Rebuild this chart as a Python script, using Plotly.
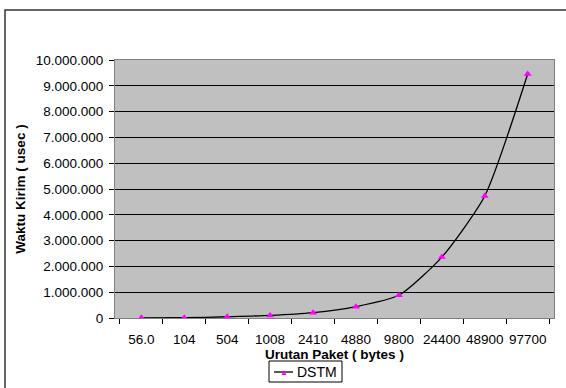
import plotly.graph_objects as go

categories = ["56.0", "104", "504", "1008", "2410", "4880", "9800", "24400", "48900", "97700"]
dstm = [5500, 10000, 49000, 98000, 205000, 440000, 880000, 2360000, 4730000, 9460000]
y_ticks = [0, 1000000, 2000000, 3000000, 4000000, 5000000, 6000000, 7000000, 8000000, 9000000, 10000000]
series_name = "DSTM"

W, H = 566, 388
L, R, T, B = 115, 12, 60, 70
pw, ph = W - L - R, H - T - B

def px_x(x):
    return (x - L) / pw

def px_y(y):
    return (H - B - y) / ph

line_style = dict(color="black", width=1.3)
marker_color = "#FF00FF"

fig = go.Figure()
fig.add_trace(go.Scatter(
    x=categories, y=dstm, name=series_name, mode="lines+markers",
    line=dict(**line_style, shape="spline", smoothing=0.6),
    marker=dict(symbol="triangle-up", color=marker_color, size=7),
    showlegend=False,
))

font = "Liberation Sans, Arial, sans-serif"
fs = 13.5
fig.update_layout(
    width=W, height=H,
    margin=dict(l=L, r=R, t=T, b=B, autoexpand=False),
    paper_bgcolor="white",
    plot_bgcolor="#C0C0C0",
    separators=",.",
    font=dict(family=font, size=fs, color="black"),
    showlegend=False,
    xaxis=dict(
        type="category", categoryorder="array", categoryarray=categories,
        showgrid=False, ticks="outside", tickson="boundaries", ticklen=5,
        tickcolor="black", showline=True, linecolor="#808080", mirror=True,
        tickfont=dict(size=fs), automargin=False, tickangle=0,
        ticklabelstandoff=9,
        title=dict(text="<b>Urutan Paket ( bytes )</b>", font=dict(size=fs), standoff=0),
    ),
    yaxis=dict(
        range=[0, 10000000], tickvals=y_ticks, tickformat=",d",
        showgrid=True, gridcolor="black", gridwidth=1,
        ticks="outside", ticklen=5, tickcolor="black",
        showline=True, linecolor="#808080", mirror=True,
        tickfont=dict(size=fs), zeroline=False, automargin=False,
        ticklabelstandoff=3,
        title=dict(text="<b>Waktu Kirim ( usec )</b>", font=dict(size=fs), standoff=6),
    ),
)

# outer chart frame
fig.add_shape(
    type="rect", xref="paper", yref="paper",
    x0=px_x(5), x1=px_x(W + 20), y0=px_y(H + 20), y1=px_y(10),
    line=dict(color="#333333", width=1.5), fillcolor="rgba(0,0,0,0)", layer="above",
)

# custom legend
fig.add_shape(
    type="rect", xref="paper", yref="paper",
    x0=px_x(269), x1=px_x(342), y0=px_y(382), y1=px_y(361),
    line=dict(color="black", width=1), fillcolor="white", layer="above",
)
fig.add_shape(
    type="line", xref="paper", yref="paper",
    x0=px_x(274), x1=px_x(293), y0=px_y(372), y1=px_y(372),
    line=line_style, layer="above",
)
fig.add_annotation(
    xref="paper", yref="paper", x=px_x(283.5), y=px_y(372.5),
    text="▲", showarrow=False, font=dict(color=marker_color, size=8),
    xanchor="center", yanchor="middle",
)
fig.add_annotation(
    xref="paper", yref="paper", x=px_x(295), y=px_y(372),
    text=series_name, showarrow=False, font=dict(size=14),
    xanchor="left", yanchor="middle",
)

fig.write_html("out.html")
